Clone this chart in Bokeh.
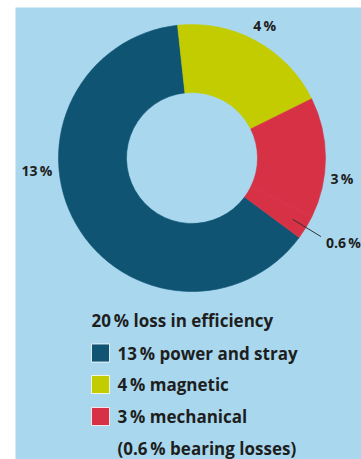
import math
from bokeh.plotting import figure
from bokeh.models import Range1d
from bokeh.core.properties import value
from bokeh.embed import file_html
from bokeh.resources import INLINE

# ---- data ----
categories = ["power and stray", "magnetic", "mechanical", "bearing losses"]
values = [13, 4, 3, 0.6]
slice_labels = ["13\u2009%", "4\u2009%", "3\u2009%", "0.6\u2009%"]
legend_title = "20\u2009% loss in efficiency"
legend_items = ["13\u2009% power and stray", "4\u2009% magnetic", "3\u2009% mechanical"]
legend_note = "(0.6\u2009% bearing losses)"

# ---- style ----
NAVY = "#0f5473"
YELLOW = "#c2cc00"
RED = "#d73146"
BG = "#a9d8ee"
TXT = "#1e1e1e"
slice_colors = [NAVY, YELLOW, RED, RED]
legend_colors = [NAVY, YELLOW, RED]
FONT = "Open Sans"

W, H = 361, 459
cx, cy = 191.5, H - 157.5
r_out, r_in = 133.5, 65.5
start_deg = -36.6  # math angle where first slice starts, drawn clockwise

p = figure(width=W, height=H, x_range=Range1d(0, W), y_range=Range1d(0, H),
           output_backend="svg", toolbar_location=None, min_border=0)
p.axis.visible = False
p.grid.visible = False
p.outline_line_color = None
p.background_fill_color = "white"
p.border_fill_color = "white"

# blue panel
p.quad(left=[15], right=[W], bottom=[0], top=[H - 7], fill_color=BG, line_color=None)

# donut
total = sum(values)
starts, ends, mids = [], [], []
a = start_deg
for v in values:
    span = v / total * 360.0
    starts.append(math.radians(a))
    ends.append(math.radians(a - span))
    mids.append(a - span / 2)
    a -= span
p.annular_wedge(x=cx, y=cy, inner_radius=r_in, outer_radius=r_out,
                start_angle=starts, end_angle=ends, direction="clock",
                fill_color=slice_colors, line_color=slice_colors, line_width=0.6)

# pointer for small slice
m = math.radians(mids[3])
p.segment(x0=[cx + 118 * math.cos(m)], y0=[cy + 118 * math.sin(m)],
          x1=[cx + 151 * math.cos(m)], y1=[cy + 151 * math.sin(m)],
          line_color="#333333", line_width=1)

# slice labels (polar placement: angle deg, radius)
label_pos = [(184.6, 155.5), (None, 151), (-7.6, 151.3), (-29.2, 173.5)]
lx, ly = [], []
for i, (ang, rad) in enumerate(label_pos):
    ang = mids[i] if ang is None else ang
    t = math.radians(ang)
    lx.append(cx + rad * math.cos(t))
    ly.append(cy + rad * math.sin(t))
p.text(x=lx, y=ly, text=slice_labels, text_align="center", text_baseline="middle",
       text_font=value(FONT), text_font_style="bold", text_font_size="14px", text_color=TXT)

# legend
p.text(x=[91], y=[H - 320], text=[legend_title], text_align="left", text_baseline="middle",
       text_font=value(FONT), text_font_style="bold", text_font_size="17px", text_color=TXT)
item_y = [H - 352.5, H - 384, H - 416]
p.rect(x=[100] * 3, y=item_y, width=18, height=18, fill_color=legend_colors,
       line_color="white", line_width=0.8)
p.text(x=[117] * 3, y=item_y, text=legend_items, text_align="left", text_baseline="middle",
       text_font=value(FONT), text_font_style="bold", text_font_size="17px", text_color=TXT)
p.text(x=[117], y=[H - 448], text=[legend_note], text_align="left", text_baseline="middle",
       text_font=value(FONT), text_font_style="bold", text_font_size="17px", text_color=TXT)

open("out.html", "w").write(file_html(p, INLINE))
